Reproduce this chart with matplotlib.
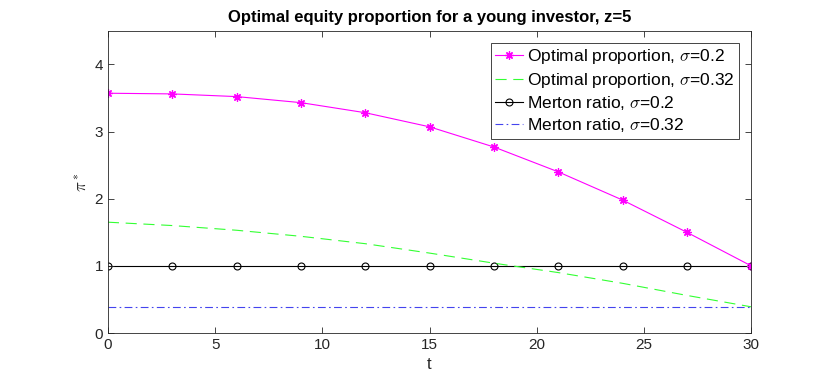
import matplotlib.pyplot as plt

plt.rcParams['font.family'] = ['Liberation Sans', 'DejaVu Sans']
plt.rcParams['mathtext.fontset'] = 'cm'

# time grid (years)
t = [0, 3, 6, 9, 12, 15, 18, 21, 24, 27, 30]

# optimal proportions
opt_02 = [3.57, 3.56, 3.52, 3.43, 3.28, 3.07, 2.77, 2.40, 1.98, 1.50, 1.00]
opt_032 = [1.65, 1.60, 1.53, 1.44, 1.33, 1.19, 1.04, 0.90, 0.74, 0.56, 0.39]

# Merton ratios (constant)
merton_02 = [1.0] * len(t)
merton_032 = [0.39] * len(t)

fig = plt.figure(figsize=(8.3, 3.87), dpi=100)
ax = fig.add_axes([0.130, 0.1395, 0.775, 0.781])

ax.plot(t, opt_02, color='#ff00ff', lw=0.8, marker=(8, 2, 0), ms=6, mew=0.9,
        label=r'Optimal proportion, $\sigma$=0.2')
ax.plot(t, opt_032, color='#33ff33', lw=0.8, ls=(0, (10, 6)),
        label=r'Optimal proportion, $\sigma$=0.32')
ax.plot(t, merton_02, color='black', lw=0.8, marker='o', ms=5, mfc='none',
        mew=0.8, label=r'Merton ratio, $\sigma$=0.2', zorder=1)
ax.plot(t, merton_032, color='#4444ee', lw=0.8, ls=(0, (7, 3, 1.5, 3)),
        label=r'Merton ratio, $\sigma$=0.32')

ax.set_xlim(0, 30)
ax.set_ylim(0, 4.5)
ax.set_xticks(range(0, 31, 5))
ax.set_yticks(range(0, 5))
ax.tick_params(direction='in', length=4, width=0.6, labelsize=11,
               colors='#262626', top=True, right=True)
for s in ax.spines.values():
    s.set_linewidth(0.6)
    s.set_color('#262626')

ax.set_title('Optimal equity proportion for a young investor, z=5',
             fontsize=12, fontweight='bold')
ax.set_xlabel('t', fontsize=12, color='#262626')
ax.set_ylabel(r'$\pi^*$', fontsize=12, color='#262626')

leg = ax.legend(loc='upper right', fontsize=12.5, fancybox=False,
                edgecolor='#262626', framealpha=1, handlelength=1.6,
                borderaxespad=0.7, labelspacing=0.25, handletextpad=0.25,
                borderpad=0.25)
leg.get_frame().set_linewidth(0.6)

fig.savefig('out.png', dpi=100)
